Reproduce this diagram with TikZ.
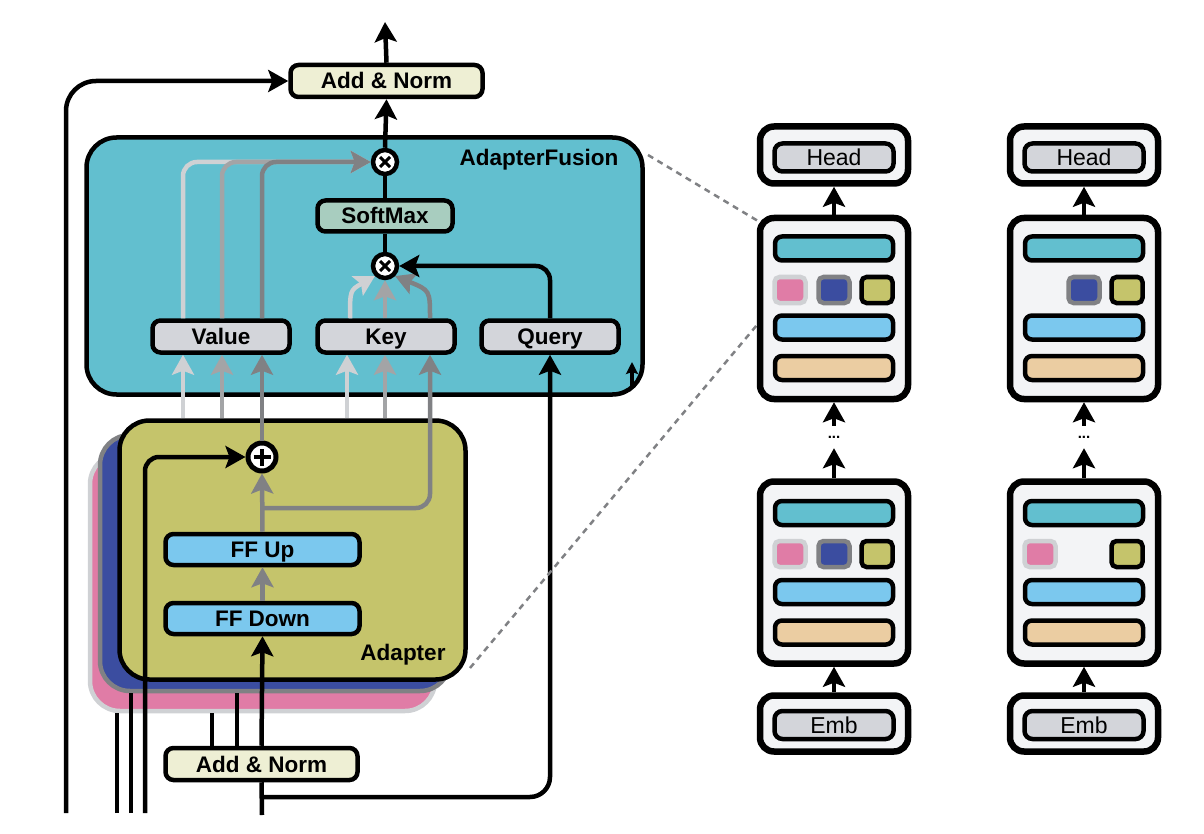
\documentclass[tikz,border=0pt]{standalone}
\usepackage{fontspec}
\setmainfont{Liberation Sans}
\usetikzlibrary{arrows.meta, positioning}

\definecolor{fusionteal}{HTML}{62BFCF}
\definecolor{adpolive}{HTML}{C5C46B}
\definecolor{adppink}{HTML}{E07CA6}
\definecolor{adpblue}{HTML}{3B4DA0}
\definecolor{ffblue}{HTML}{7BC8EE}
\definecolor{keygrey}{HTML}{D3D5DA}
\definecolor{softgreen}{HTML}{A8CDBF}
\definecolor{normcream}{HTML}{EEEFD4}
\definecolor{embbeige}{HTML}{EBCDA2}
\definecolor{panelgrey}{HTML}{F3F4F6}
\definecolor{lightg}{HTML}{CFD1D4}
\definecolor{midg}{HTML}{A3A4A6}
\definecolor{darkg}{HTML}{808184}

\begin{document}
\begin{tikzpicture}[
    x=1pt, y=-1pt,
    every node/.style={font=\fontsize{22.5}{26}\selectfont\bfseries},
    lbox/.style={draw, line width=4.5pt, rounded corners=8pt, inner sep=0pt, minimum height=32pt,
        text height=16pt, text depth=0pt},
    addnorm/.style={lbox, fill=normcream, minimum width=192pt},
    ffbox/.style={lbox, fill=ffblue, minimum width=194pt, minimum height=31pt},
    vkq/.style={lbox, fill=keygrey, minimum width=137pt},
    layer/.style={draw, line width=4.5pt, rounded corners=30pt, inner sep=0pt},
    mult/.style={circle, draw, fill=white, line width=4.5pt, minimum size=24pt, inner sep=0pt,
        path picture={\draw[line width=3pt]
            ([shift={(-5pt,-5pt)}]path picture bounding box.center) -- ([shift={(5pt,5pt)}]path picture bounding box.center)
            ([shift={(-5pt,5pt)}]path picture bounding box.center) -- ([shift={(5pt,-5pt)}]path picture bounding box.center);}},
    plus/.style={circle, draw, fill=white, line width=5pt, minimum size=28pt, inner sep=0pt,
        path picture={\draw[line width=3.5pt]
            ([shift={(-8.5pt,0pt)}]path picture bounding box.center) -- ([shift={(8.5pt,0pt)}]path picture bounding box.center)
            ([shift={(0pt,-8.5pt)}]path picture bounding box.center) -- ([shift={(0pt,8.5pt)}]path picture bounding box.center);}},
    line/.style={line width=4.5pt},
    arr/.style={-{Stealth[length=20pt, width=22pt, inset=4pt]}, line width=4.5pt, rounded corners=14pt},
    greyarr/.style={arr, draw=#1},
    zoomline/.style={draw=darkg, line width=2.5pt, dash pattern=on 6pt off 5pt},
    panel/.style={draw, line width=6.5pt, fill=panelgrey, rounded corners=14pt, minimum width=148pt, inner sep=0pt},
    bar/.style={draw, line width=4.5pt, rounded corners=7pt, minimum width=118pt, minimum height=24pt, inner sep=0pt},
    sq/.style={draw, line width=4.5pt, rounded corners=5pt, minimum width=31pt, minimum height=26pt, inner sep=0pt},
    tag/.style={draw, line width=4.5pt, fill=keygrey, rounded corners=8pt, minimum width=119pt, minimum height=28pt,
        inner sep=0pt, text height=16.5pt, text depth=0pt, font=\fontsize{23}{26}\selectfont\mdseries}
]
\useasboundingbox (0,0) rectangle (1204,834);

% Adapter stack
\node[layer, fill=adppink, draw=lightg, minimum width=345pt, minimum height=257pt] (pink) at (262.5,582.5) {};
\node[layer, fill=adpblue, draw=darkg, minimum width=350pt, minimum height=256pt] (blue) at (275,563) {};
\node[layer, fill=adpolive, minimum width=346pt, minimum height=259pt] (adp) at (292.5,550) {};
\node (adplabel) at (403,655) {Adapter};

% Fusion layer
\node[layer, fill=fusionteal, minimum width=556pt, minimum height=257pt] (fus) at (364.5,266) {};
\node (fuslabel) at (539,160) {AdapterFusion};

\node[addnorm] (an2) at (386.5,81) {Add \& Norm};
\node[mult] (mtop) at (385,162) {};
\node[lbox, fill=softgreen, minimum width=135pt, minimum height=31pt] (soft) at (385,216) {SoftMax};
\node[mult] (mlow) at (385,266) {};
\node[vkq] (val) at (221,336.5) {Value};
\node[vkq] (key) at (386,336.5) {Key};
\node[vkq] (qry) at (550,336.5) {Query};

% Adapter internals
\node[plus] (plus) at (262,457) {};
\node[ffbox] (ffup) at (262.5,549.5) {FF Up};
\node[ffbox] (ffdown) at (262.5,618.5) {FF Down};
\node[addnorm] (an1) at (261.5,764) {Add \& Norm};

\coordinate (out) at (385,22);
\coordinate (res0) at (66,813);
\coordinate (res1) at (117,813);
\coordinate (res2) at (131,813);
\coordinate (res3) at (145,813);
\coordinate (in) at (262,815);
\coordinate (qsplit) at (262,797);
\coordinate (split) at (262,508);
\coordinate (stub) at (632,388);

% Output path
\draw[arr] (an2.north) -- (out);
\draw[arr] (mtop.north) -- (an2.south);
\draw[line] (soft.north) -- (mtop.south);
\draw[line] (mlow.north) -- (soft.south);
\draw[arr, rounded corners=30pt] (res0) |- (an2.west);

% Values to the upper product
\draw[greyarr=lightg] ([xshift=-38pt]val.north) |- (mtop.west);
\draw[greyarr=midg] ([xshift=1pt]val.north) |- (mtop.west);
\draw[greyarr=darkg] ([xshift=41pt]val.north) |- (mtop.west);

% Keys and query to the lower product
\draw[greyarr=lightg] ([xshift=-36pt]key.north) .. controls ([xshift=-36pt,yshift=28pt]key.north) .. (mlow.south west);
\draw[greyarr=midg] (key.north -| mlow.south) -- (mlow.south);
\draw[greyarr=darkg] ([xshift=44pt]key.north) .. controls ([xshift=44pt,yshift=28pt]key.north) .. (mlow.south east);
\draw[arr] (qry.north) |- (mlow.east);
\draw[-{Stealth[length=12pt, width=12pt, inset=2pt]}, line width=3.5pt] (stub) -- ++(0,-26);

% Adapter outputs into Value and Key
\draw[greyarr=lightg] ([xshift=-38pt]val.south |- adp.north) -- ([xshift=-38pt]val.south);
\draw[greyarr=midg] ([xshift=1pt]val.south |- adp.north) -- ([xshift=1pt]val.south);
\draw[greyarr=darkg] (plus.north) -- ([xshift=41pt]val.south);
\draw[greyarr=lightg] ([xshift=-39pt]key.south |- adp.north) -- ([xshift=-39pt]key.south);
\draw[greyarr=midg] ([xshift=-1pt]key.south |- adp.north) -- ([xshift=-1pt]key.south);
\draw[greyarr=darkg] (split) -| ([xshift=44pt]key.south);
\draw[greyarr=darkg] (ffup.north) -- (plus.south);
\draw[greyarr=darkg] (ffdown.north) -- (ffup.south);

% Inputs
\draw[arr] (an1.north) -- (ffdown.south);
\draw[line] ([xshift=-49.5pt]an1.north) -- ([xshift=-49.5pt]an1.north |- pink.south);
\draw[line] ([xshift=-24.5pt]an1.north) -- ([xshift=-24.5pt]an1.north |- blue.south);
\draw[line] (res1) -- (res1 |- pink.south);
\draw[line] (res2) -- (res2 |- blue.south);
\draw[arr] (res3) |- (plus.west);
\draw[line] (in) -- (an1.south);
\draw[arr, rounded corners=20pt] (qsplit) -| (qry.south);

% Zoom lines
\coordinate (z1) at (648,155);
\coordinate (z2) at (773,230);
\coordinate (z3) at (470,668);
\coordinate (z4) at (772,307);
\draw[zoomline] (z1) -- (z2);
\draw[zoomline] (z3) -- (z4);

% Transformer stacks
\foreach \c/\x in {1/834, 2/1084} {
  \node[panel, minimum height=57pt] (head\c) at (\x,155) {};
  \node[tag] (headtag\c) at (\x,157.5) {Head};
  \node[panel, minimum height=181pt] (blk\c) at (\x,308.5) {};
  \node[bar, fill=fusionteal] (blkfus\c) at (\x,248.5) {};
  \node[bar, fill=ffblue] (blkff\c) at (\x,327.5) {};
  \node[bar, fill=embbeige] (blkemb\c) at (\x,368) {};
  \node[font=\fontsize{15}{18}\selectfont\bfseries, inner sep=0pt, minimum height=22pt] (dots\c) at (\x,437) {...};
  \node[panel, minimum height=182pt] (low\c) at (\x,572.5) {};
  \node[bar, fill=fusionteal] (lowfus\c) at (\x,513) {};
  \node[bar, fill=ffblue] (lowff\c) at (\x,592) {};
  \node[bar, fill=embbeige] (lowemb\c) at (\x,632.5) {};
  \node[panel, minimum height=56pt] (emb\c) at (\x,723.5) {};
  \node[tag] (embtag\c) at (\x,725) {Emb};
  \draw[arr] (blk\c.north) -- (head\c.south);
  \draw[arr] (dots\c.north) -- (blk\c.south);
  \draw[arr] (low\c.north) -- (dots\c.south);
  \draw[arr] (emb\c.north) -- (low\c.south);
}

% Adapters per stack
\node[sq, fill=adppink, draw=lightg] (sqa1) at (790,290) {};
\node[sq, fill=adpblue, draw=darkg] (sqb1) at (834,290) {};
\node[sq, fill=adpolive] (sqc1) at (877,290) {};
\node[sq, fill=adpblue, draw=darkg] (sqb2) at (1084,290) {};
\node[sq, fill=adpolive] (sqc2) at (1127,290) {};
\node[sq, fill=adppink, draw=lightg] (sqa3) at (790,554) {};
\node[sq, fill=adpblue, draw=darkg] (sqb3) at (834,554) {};
\node[sq, fill=adpolive] (sqc3) at (877,554) {};
\node[sq, fill=adppink, draw=lightg] (sqa4) at (1040,554) {};
\node[sq, fill=adpolive] (sqc4) at (1127,554) {};
\end{tikzpicture}
\end{document}
